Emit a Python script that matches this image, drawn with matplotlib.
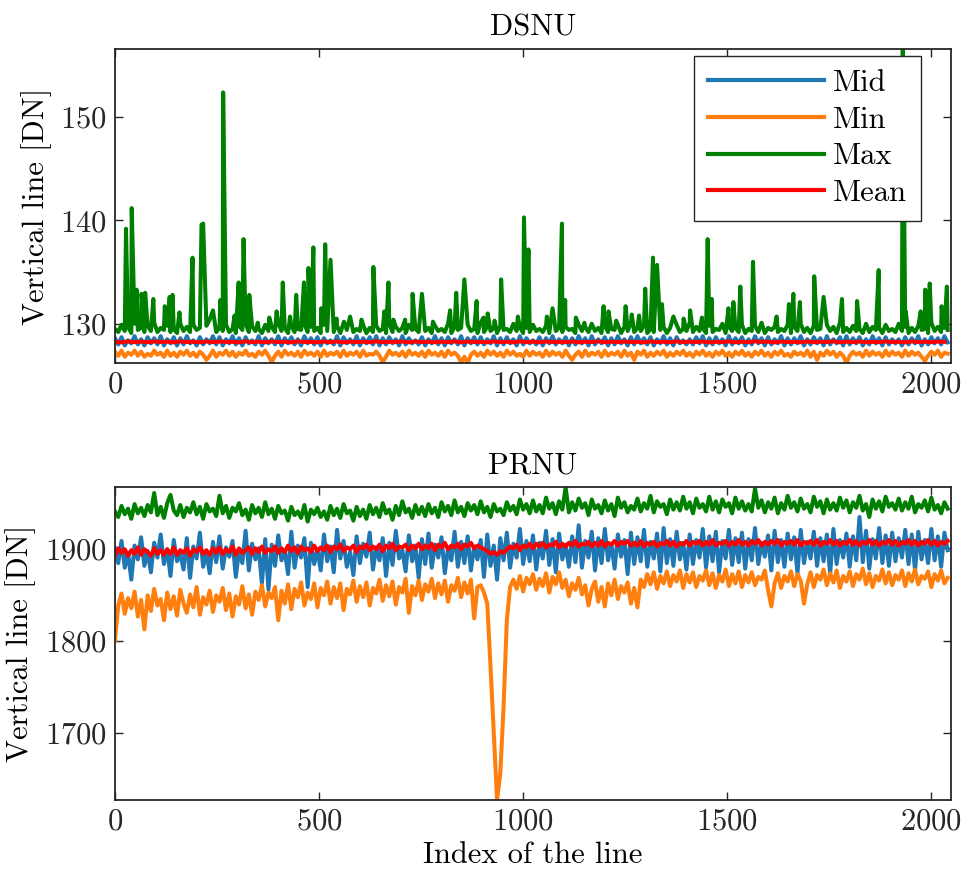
import numpy as np
import matplotlib
matplotlib.use("Agg")
import matplotlib.pyplot as plt

plt.rcParams['font.family'] = ['cmr10', 'DejaVu Serif']
plt.rcParams['axes.formatter.use_mathtext'] = True
plt.rcParams['mathtext.fontset'] = 'cm'

# ---------------- data ----------------
line_index = np.arange(0, 2048, 8)     # index of the line (sampled every 8)
mean_index = np.arange(0, 2048, 16)    # index for the smooth DSNU mean
series_names = ["Mid", "Min", "Max", "Mean"]
series_colors = ["#1f77b4", "#ff7f0e", "#008000", "#ff0000"]
x_ticks = [0, 500, 1000, 1500, 2000]
dsnu_yticks = [130, 140, 150]
prnu_yticks = [1700, 1800, 1900]

dsnu_mid = [
    128.6, 128.0, 128.7, 127.9, 128.4, 128.1, 128.8, 128.0, 128.5, 127.9, 128.7, 128.1, 128.6, 128.0, 128.8, 127.9,
    128.5, 128.1, 128.7, 127.9, 128.6, 128.0, 128.8, 128.1, 128.4, 127.9, 128.7, 128.0, 128.5, 128.1, 128.8, 128.0,
    128.7, 127.9, 128.5, 128.1, 128.8, 128.0, 128.6, 127.9, 128.7, 128.1, 128.4, 128.0, 128.8, 127.9, 128.6, 128.1,
    128.5, 128.0, 128.8, 127.9, 128.6, 128.1, 128.7, 128.0, 128.5, 127.9, 128.8, 128.1, 128.6, 128.0, 128.7, 127.9,
    128.6, 128.1, 128.4, 128.0, 128.8, 127.9, 128.7, 128.1, 128.5, 128.0, 128.8, 127.9, 128.6, 128.1, 128.7, 128.0,
    128.8, 127.9, 128.6, 128.0, 128.7, 128.1, 128.5, 127.9, 128.8, 128.0, 128.6, 128.1, 128.4, 128.0, 128.7, 127.9,
    128.5, 128.1, 128.8, 128.0, 128.6, 127.9, 128.7, 128.1, 128.5, 128.0, 128.8, 127.9, 128.6, 128.1, 128.7, 128.0,
    128.7, 128.0, 128.5, 128.1, 128.8, 127.9, 128.6, 128.0, 128.7, 128.1, 128.5, 127.9, 128.8, 128.0, 128.6, 128.1,
    128.4, 128.0, 128.7, 127.9, 128.6, 128.1, 128.8, 128.0, 128.5, 128.1, 128.7, 127.9, 128.6, 128.0, 128.8, 128.1,
    128.6, 127.9, 128.8, 128.0, 128.5, 128.1, 128.7, 127.9, 128.6, 128.0, 128.8, 128.1, 128.5, 127.9, 128.7, 128.0,
    128.8, 128.1, 128.6, 128.0, 128.7, 127.9, 128.5, 128.1, 128.8, 128.0, 128.6, 127.9, 128.7, 128.1, 128.4, 128.0,
    128.5, 128.0, 128.7, 128.1, 128.8, 127.9, 128.6, 128.0, 128.7, 128.1, 128.5, 127.9, 128.8, 128.0, 128.6, 128.1,
    128.7, 127.9, 128.5, 128.0, 128.8, 128.1, 128.6, 127.9, 128.7, 128.0, 128.5, 128.1, 128.8, 127.9, 128.6, 128.0,
    128.6, 128.1, 128.8, 127.9, 128.5, 128.0, 128.7, 128.1, 128.6, 127.9, 128.8, 128.0, 128.5, 128.1, 128.7, 127.9,
    128.8, 128.0, 128.6, 128.1, 128.7, 127.9, 128.5, 128.0, 128.8, 128.1, 128.6, 127.9, 128.7, 128.0, 128.5, 128.1,
    128.5, 127.9, 128.7, 128.0, 128.6, 128.1, 128.8, 127.9, 128.5, 128.0, 128.7, 128.1, 128.6, 128.0, 128.8, 128.2]

dsnu_min = [
    127.3, 126.9, 127.4, 126.8, 127.2, 127.0, 127.4, 126.9, 127.3, 126.8, 127.1, 126.9, 127.4, 127.0, 127.2, 126.8,
    127.4, 126.9, 127.2, 126.8, 127.3, 127.0, 127.4, 126.9, 127.2, 126.8, 127.3, 127.0, 126.5, 126.9, 127.4, 126.8,
    127.2, 127.0, 127.4, 126.9, 127.3, 126.8, 127.2, 127.0, 127.4, 126.9, 127.1, 126.8, 127.3, 127.0, 127.4, 126.9,
    126.3, 126.9, 127.3, 126.8, 127.4, 127.0, 127.2, 126.9, 127.3, 126.8, 127.4, 127.0, 127.2, 126.9, 127.3, 126.8,
    127.4, 126.9, 127.2, 127.0, 127.3, 126.8, 127.4, 126.9, 127.2, 127.0, 127.3, 126.8, 127.4, 126.9, 127.1, 127.0,
    127.3, 126.9, 126.3, 126.8, 127.4, 127.0, 127.2, 126.9, 127.3, 126.8, 127.4, 127.0, 127.2, 126.9, 127.3, 126.8,
    127.4, 127.0, 127.2, 126.9, 127.3, 126.8, 127.4, 127.0, 127.2, 126.9, 126.3, 126.8, 126.2, 127.0, 127.3, 126.9,
    127.2, 126.8, 127.4, 127.0, 127.3, 126.9, 127.2, 126.8, 127.4, 127.0, 127.3, 126.9, 127.1, 126.8, 127.4, 126.9,
    127.3, 127.0, 127.2, 126.8, 127.4, 126.9, 127.3, 127.0, 127.2, 126.8, 127.4, 126.9, 126.5, 127.0, 127.3, 126.8,
    127.4, 126.9, 127.2, 127.0, 127.3, 126.8, 127.4, 126.9, 127.2, 127.0, 127.3, 126.8, 127.4, 126.9, 127.2, 126.5,
    127.3, 127.0, 127.4, 126.8, 127.2, 126.9, 127.3, 127.0, 127.4, 126.8, 127.2, 126.9, 127.3, 127.0, 127.4, 126.9,
    127.2, 126.8, 127.3, 127.0, 127.4, 126.9, 127.2, 126.8, 127.3, 127.0, 127.4, 126.9, 127.2, 126.8, 127.3, 127.0,
    127.4, 126.9, 127.2, 126.8, 127.3, 127.0, 127.4, 126.9, 127.2, 126.8, 127.3, 127.0, 127.4, 126.9, 127.1, 126.8,
    127.3, 127.0, 127.2, 126.9, 127.4, 126.8, 127.3, 126.5, 127.2, 126.9, 127.4, 127.0, 127.3, 126.8, 127.2, 126.9,
    126.2, 126.9, 127.3, 127.0, 127.2, 126.8, 127.4, 126.9, 127.3, 127.0, 127.2, 126.8, 127.4, 126.9, 127.3, 127.0,
    127.2, 126.8, 127.4, 126.9, 127.3, 127.0, 127.2, 126.8, 126.4, 126.9, 127.3, 127.0, 127.4, 126.8, 127.2, 127.1]

dsnu_max_base = [
    129.5, 129.2, 129.9, 129.3, 129.7, 129.1, 130.0, 129.4, 129.6, 129.2, 129.8, 129.3, 130.1, 129.2, 129.6, 129.4,
    129.8, 129.2, 129.5, 129.1, 130.0, 129.3, 129.7, 129.2, 129.9, 129.4, 129.6, 129.1, 129.8, 129.3, 130.2, 129.2,
    129.6, 129.3, 129.9, 129.2, 129.5, 129.1, 129.8, 129.4, 130.0, 129.2, 129.7, 129.3, 129.5, 129.1, 129.9, 129.3,
    129.7, 129.2, 130.1, 129.3, 129.6, 129.1, 129.8, 129.2, 129.5, 129.4, 130.0, 129.2, 129.7, 129.3, 129.6, 129.1,
    129.9, 129.3, 129.6, 129.2, 129.8, 129.1, 130.1, 129.4, 129.7, 129.2, 129.5, 129.3, 129.9, 129.1, 129.6, 129.2,
    129.8, 129.3, 129.5, 129.1, 130.0, 129.2, 129.7, 129.3, 129.6, 129.1, 129.9, 129.4, 129.5, 129.2, 130.1, 129.3,
    129.6, 129.1, 129.8, 129.3, 129.5, 129.2, 130.0, 129.1, 129.7, 129.4, 129.6, 129.2, 129.9, 129.3, 129.5, 129.1,
    130.1, 129.2, 129.7, 129.3, 129.6, 129.1, 129.8, 129.4, 129.5, 129.2, 130.0, 129.3, 129.7, 129.1, 129.6, 129.2,
    129.9, 129.3, 129.5, 129.2, 129.8, 129.1, 130.1, 129.3, 129.6, 129.2, 129.7, 129.4, 129.5, 129.1, 129.9, 129.3,
    129.7, 129.2, 130.0, 129.3, 129.6, 129.1, 129.8, 129.2, 129.5, 129.4, 129.9, 129.1, 129.7, 129.3, 130.1, 129.2,
    129.6, 129.3, 129.8, 129.1, 129.5, 129.2, 130.0, 129.4, 129.7, 129.1, 129.6, 129.3, 129.9, 129.2, 129.5, 129.3,
    130.1, 129.2, 129.7, 129.3, 129.6, 129.1, 129.8, 129.2, 129.5, 129.4, 130.0, 129.1, 129.7, 129.3, 129.6, 129.2,
    129.9, 129.1, 129.5, 129.3, 129.8, 129.2, 130.1, 129.1, 129.6, 129.4, 129.7, 129.2, 129.5, 129.3, 129.9, 129.1,
    129.7, 129.3, 130.0, 129.2, 129.6, 129.1, 129.8, 129.4, 129.5, 129.2, 129.9, 129.3, 129.7, 129.1, 130.1, 129.2,
    129.6, 129.2, 129.8, 129.3, 129.5, 129.1, 130.0, 129.2, 129.7, 129.4, 129.6, 129.1, 129.9, 129.3, 129.5, 129.2,
    130.0, 129.3, 129.7, 129.1, 129.6, 129.2, 129.8, 129.4, 129.5, 129.1, 130.1, 129.3, 129.7, 129.2, 129.6, 129.4]

dsnu_max_spike_idx = [
    27, 41, 53, 65, 74, 94, 122, 134, 141, 158, 190, 212, 216, 232, 240, 258,
    265, 293, 303, 315, 329, 350, 378, 396, 411, 429, 444, 463, 474, 486, 505,
    515, 528, 543, 561, 576, 604, 633, 660, 670, 682, 711, 729, 752, 779, 821,
    836, 856, 886, 903, 913, 930, 946, 987, 1002, 1013, 1058, 1072, 1095, 1103,
    1129, 1150, 1197, 1209, 1228, 1251, 1266, 1284, 1299, 1318, 1328, 1340,
    1368, 1393, 1409, 1438, 1452, 1462, 1503, 1515, 1532, 1563, 1621, 1651,
    1662, 1678, 1713, 1736, 1781, 1818, 1871, 1930, 1937, 1974, 1985, 1996,
    2025, 2038]
dsnu_max_spike_val = [
    139.2, 141.2, 133.3, 132.9, 133.0, 132.4, 131.7, 132.6, 132.8, 131.1, 136.4,
    139.6, 139.7, 130.4, 131.3, 132.3, 152.4, 130.8, 134.0, 138.2, 132.8, 130.1,
    130.6, 131.2, 134.0, 130.7, 132.8, 134.0, 135.4, 137.4, 131.5, 137.7, 136.2,
    130.5, 130.2, 130.7, 130.4, 135.5, 131.2, 134.0, 130.4, 130.4, 132.9, 132.9,
    130.2, 131.3, 133.0, 134.3, 132.2, 130.6, 131.0, 130.3, 134.3, 130.7, 140.3,
    137.2, 130.7, 131.5, 139.7, 132.3, 130.6, 130.1, 131.7, 131.2, 130.3, 131.7,
    130.9, 130.8, 133.4, 136.4, 135.7, 131.9, 130.7, 130.5, 131.3, 130.6, 138.2,
    132.4, 131.5, 132.1, 133.6, 136.0, 130.7, 131.9, 132.9, 132.1, 134.6, 132.6,
    132.4, 132.2, 135.2, 156.6, 131.2, 131.2, 133.3, 133.9, 131.7, 133.6]

dsnu_mean = [
    128.25, 128.20, 128.30, 128.22, 128.28, 128.21, 128.29, 128.24, 128.27, 128.20,
    128.30, 128.23, 128.26, 128.21, 128.29, 128.22, 128.28, 128.24, 128.25, 128.20,
    128.30, 128.22, 128.27, 128.21, 128.29, 128.23, 128.26, 128.20, 128.30, 128.24,
    128.25, 128.21, 128.28, 128.22, 128.29, 128.20, 128.27, 128.23, 128.26, 128.21,
    128.30, 128.22, 128.25, 128.24, 128.28, 128.20, 128.29, 128.23, 128.26, 128.21,
    128.27, 128.22, 128.30, 128.20, 128.28, 128.24, 128.25, 128.21, 128.29, 128.23,
    128.26, 128.20, 128.30, 128.22, 128.27, 128.21, 128.28, 128.24, 128.25, 128.22,
    128.29, 128.20, 128.26, 128.23, 128.30, 128.21, 128.27, 128.22, 128.28, 128.24,
    128.25, 128.20, 128.29, 128.23, 128.26, 128.21, 128.30, 128.22, 128.27, 128.24,
    128.28, 128.20, 128.25, 128.23, 128.29, 128.21, 128.26, 128.22, 128.30, 128.24,
    128.27, 128.20, 128.28, 128.23, 128.25, 128.21, 128.29, 128.22, 128.26, 128.24,
    128.30, 128.20, 128.27, 128.23, 128.28, 128.21, 128.25, 128.22, 128.29, 128.24,
    128.26, 128.20, 128.30, 128.23, 128.27, 128.21, 128.28, 128.25]

prnu_mid = [
    1900, 1884, 1908, 1879, 1895, 1866, 1903, 1888, 1912, 1881, 1897, 1874, 1906, 1890, 1915, 1883,
    1899, 1870, 1909, 1886, 1894, 1877, 1911, 1868, 1902, 1889, 1917, 1880, 1896, 1873, 1907, 1885,
    1913, 1878, 1901, 1891, 1908, 1869, 1898, 1884, 1919, 1876, 1905, 1888, 1900, 1862, 1910, 1855,
    1904, 1881, 1914, 1887, 1897, 1872, 1918, 1879, 1903, 1890, 1911, 1858, 1906, 1883, 1899, 1876,
    1915, 1886, 1902, 1874, 1920, 1889, 1908, 1880, 1896, 1871, 1913, 1884, 1905, 1891, 1917, 1877,
    1901, 1887, 1911, 1870, 1906, 1882, 1919, 1889, 1898, 1875, 1914, 1886, 1903, 1868, 1910, 1883,
    1916, 1879, 1904, 1890, 1912, 1873, 1900, 1887, 1918, 1880, 1907, 1884, 1913, 1876, 1902, 1888,
    1909, 1869, 1915, 1881, 1903, 1866, 1911, 1887, 1917, 1879, 1905, 1890, 1921, 1883, 1908, 1886,
    1914, 1877, 1906, 1889, 1919, 1882, 1910, 1874, 1916, 1888, 1904, 1880, 1913, 1885, 1925, 1879,
    1908, 1890, 1918, 1876, 1911, 1884, 1921, 1887, 1905, 1878, 1915, 1891, 1909, 1872, 1917, 1883,
    1912, 1886, 1920, 1880, 1907, 1889, 1916, 1875, 1922, 1884, 1910, 1881, 1918, 1888, 1906, 1877,
    1915, 1883, 1909, 1890, 1921, 1879, 1913, 1886, 1918, 1874, 1908, 1889, 1920, 1882, 1911, 1885,
    1917, 1878, 1910, 1887, 1922, 1883, 1906, 1891, 1914, 1876, 1919, 1885, 1909, 1880, 1916, 1888,
    1912, 1873, 1920, 1884, 1907, 1889, 1918, 1881, 1911, 1886, 1915, 1872, 1921, 1883, 1909, 1890,
    1916, 1880, 1913, 1887, 1934, 1885, 1919, 1878, 1910, 1889, 1922, 1884, 1914, 1881, 1917, 1886,
    1911, 1890, 1920, 1883, 1915, 1876, 1918, 1888, 1909, 1884, 1921, 1887, 1913, 1880, 1917, 1898]

prnu_min = [
    1800, 1838, 1851, 1829, 1846, 1835, 1853, 1826, 1844, 1812, 1849, 1832, 1856, 1838, 1845, 1822,
    1852, 1834, 1848, 1827, 1855, 1840, 1830, 1850, 1836, 1858, 1828, 1847, 1839, 1854, 1831, 1849,
    1842, 1857, 1833, 1851, 1826, 1848, 1839, 1859, 1835, 1850, 1828, 1853, 1844, 1860, 1837, 1852,
    1846, 1858, 1822, 1854, 1840, 1861, 1834, 1856, 1847, 1863, 1838, 1852, 1845, 1862, 1836, 1857,
    1849, 1864, 1840, 1858, 1846, 1862, 1833, 1856, 1850, 1865, 1842, 1859, 1847, 1863, 1838, 1857,
    1851, 1866, 1843, 1860, 1848, 1864, 1839, 1858, 1852, 1867, 1830, 1859, 1849, 1865, 1844, 1861,
    1853, 1867, 1846, 1862, 1850, 1865, 1842, 1860, 1854, 1868, 1847, 1863, 1851, 1866, 1824, 1858,
    1860, 1852, 1840, 1772, 1700, 1627, 1656, 1728, 1822, 1858, 1866, 1856, 1870, 1853, 1868, 1861,
    1872, 1855, 1867, 1859, 1873, 1852, 1869, 1861, 1874, 1857, 1866, 1848, 1862, 1855, 1868, 1850,
    1860, 1838, 1856, 1864, 1842, 1858, 1837, 1862, 1849, 1866, 1845, 1859, 1852, 1863, 1840, 1857,
    1836, 1866, 1858, 1872, 1861, 1874, 1856, 1870, 1862, 1875, 1859, 1871, 1864, 1876, 1857, 1872,
    1863, 1874, 1858, 1870, 1865, 1876, 1860, 1873, 1857, 1871, 1864, 1877, 1859, 1872, 1862, 1875,
    1858, 1871, 1863, 1874, 1860, 1869, 1866, 1876, 1855, 1837, 1862, 1873, 1857, 1870, 1864, 1875,
    1859, 1872, 1865, 1840, 1861, 1874, 1858, 1871, 1866, 1877, 1860, 1873, 1863, 1876, 1857, 1870,
    1864, 1875, 1859, 1872, 1866, 1878, 1861, 1873, 1858, 1870, 1865, 1877, 1862, 1874, 1860, 1871,
    1866, 1876, 1859, 1873, 1864, 1877, 1861, 1870, 1867, 1875, 1858, 1872, 1865, 1876, 1862, 1868]

prnu_max = [
    1940, 1934, 1946, 1937, 1943, 1932, 1948, 1938, 1944, 1935, 1947, 1939, 1960, 1936, 1945, 1933,
    1949, 1958, 1941, 1936, 1947, 1934, 1944, 1939, 1950, 1937, 1945, 1932, 1948, 1940, 1943, 1935,
    1957, 1938, 1946, 1933, 1944, 1940, 1949, 1936, 1942, 1931, 1947, 1938, 1944, 1934, 1950, 1937,
    1943, 1932, 1946, 1938, 1941, 1930, 1945, 1936, 1940, 1933, 1947, 1929, 1942, 1937, 1944, 1934,
    1940, 1931, 1946, 1936, 1943, 1933, 1948, 1938, 1941, 1930, 1945, 1935, 1942, 1932, 1947, 1937,
    1944, 1934, 1949, 1938, 1942, 1931, 1946, 1936, 1951, 1939, 1943, 1933, 1947, 1937, 1945, 1935,
    1948, 1938, 1944, 1934, 1950, 1940, 1946, 1936, 1952, 1939, 1945, 1935, 1949, 1941, 1947, 1937,
    1951, 1939, 1945, 1934, 1948, 1940, 1943, 1936, 1950, 1941, 1946, 1937, 1953, 1942, 1948, 1938,
    1952, 1940, 1947, 1938, 1955, 1943, 1949, 1937, 1951, 1942, 1966, 1939, 1950, 1941, 1954, 1944,
    1949, 1936, 1953, 1943, 1947, 1938, 1952, 1941, 1948, 1935, 1955, 1944, 1950, 1939, 1946, 1942,
    1954, 1940, 1949, 1943, 1957, 1939, 1951, 1945, 1948, 1937, 1953, 1942, 1950, 1941, 1956, 1943,
    1950, 1938, 1954, 1944, 1948, 1940, 1956, 1942, 1951, 1939, 1953, 1945, 1949, 1938, 1955, 1943,
    1951, 1941, 1948, 1940, 1965, 1944, 1952, 1939, 1950, 1943, 1955, 1938, 1949, 1942, 1957, 1944,
    1950, 1940, 1954, 1943, 1948, 1939, 1956, 1945, 1951, 1938, 1953, 1942, 1949, 1941, 1955, 1944,
    1952, 1939, 1950, 1944, 1957, 1941, 1948, 1934, 1953, 1943, 1951, 1940, 1956, 1945, 1949, 1942,
    1954, 1941, 1950, 1943, 1956, 1939, 1948, 1944, 1952, 1940, 1955, 1942, 1947, 1938, 1950, 1943]

prnu_mean = [
    1893, 1900, 1895, 1899, 1892, 1898, 1894, 1901, 1893, 1899, 1896, 1892, 1900, 1894, 1898, 1893,
    1899, 1894, 1901, 1893, 1898, 1895, 1900, 1892, 1899, 1896, 1901, 1894, 1898, 1893, 1900, 1895,
    1901, 1894, 1899, 1896, 1902, 1893, 1900, 1895, 1898, 1901, 1894, 1900, 1896, 1902, 1895, 1899,
    1897, 1902, 1895, 1900, 1896, 1903, 1897, 1901, 1895, 1902, 1898, 1900, 1896, 1903, 1897, 1901,
    1898, 1903, 1896, 1902, 1899, 1904, 1897, 1901, 1899, 1903, 1896, 1902, 1900, 1904, 1898, 1902,
    1899, 1904, 1897, 1903, 1900, 1905, 1898, 1902, 1901, 1904, 1898, 1903, 1900, 1905, 1899, 1903,
    1900, 1905, 1898, 1904, 1901, 1906, 1899, 1903, 1901, 1905, 1899, 1904, 1902, 1906, 1900, 1903,
    1901, 1899, 1897, 1894, 1896, 1893, 1897, 1895, 1899, 1902, 1900, 1904, 1898, 1903, 1901, 1905,
    1900, 1905, 1902, 1906, 1901, 1904, 1903, 1907, 1901, 1905, 1902, 1906, 1903, 1908, 1902, 1905,
    1904, 1907, 1902, 1906, 1903, 1908, 1902, 1906, 1904, 1908, 1903, 1907, 1905, 1908, 1903, 1906,
    1903, 1908, 1902, 1906, 1904, 1907, 1902, 1906, 1904, 1908, 1903, 1907, 1902, 1906, 1904, 1908,
    1903, 1907, 1905, 1908, 1903, 1907, 1904, 1909, 1903, 1906, 1905, 1908, 1903, 1907, 1904, 1909,
    1904, 1907, 1903, 1908, 1905, 1909, 1903, 1907, 1904, 1908, 1905, 1909, 1903, 1907, 1905, 1908,
    1904, 1909, 1903, 1907, 1905, 1908, 1904, 1909, 1903, 1907, 1905, 1909, 1904, 1908, 1903, 1907,
    1905, 1909, 1904, 1908, 1903, 1907, 1905, 1909, 1904, 1908, 1903, 1907, 1905, 1909, 1904, 1908,
    1903, 1907, 1905, 1909, 1904, 1908, 1903, 1907, 1905, 1909, 1904, 1908, 1903, 1907, 1905, 1908]


def merged(base_idx, base_val, extra_idx, extra_val):
    pts = dict(zip(np.asarray(base_idx).tolist(), base_val))
    pts.update(zip(extra_idx, extra_val))
    xs = sorted(pts)
    return xs, [pts[k] for k in xs]


dsnu_max_x, dsnu_max_y = merged(line_index, dsnu_max_base, dsnu_max_spike_idx, dsnu_max_spike_val)

# ---------------- figure ----------------
FS = 22
LW = 2.9
fig = plt.figure(figsize=(9.67, 8.76), dpi=100)
ax1 = fig.add_axes([0.1189, 0.5856, 0.8645, 0.3584])
ax2 = fig.add_axes([0.1189, 0.0868, 0.8645, 0.3567])

panels = [
    (ax1, "DSNU",
     [(line_index, dsnu_mid), (line_index, dsnu_min), (dsnu_max_x, dsnu_max_y), (mean_index, dsnu_mean)],
     dsnu_yticks),
    (ax2, "PRNU",
     [(line_index, prnu_mid), (line_index, prnu_min), (line_index, prnu_max), (line_index, prnu_mean)],
     prnu_yticks),
]

for ax, title, series, yticks in panels:
    allv = []
    for (xs, ys), name, col in zip(series, series_names, series_colors):
        ax.plot(xs, ys, color=col, lw=LW, label=name)
        allv += list(ys)
    ax.set_xlim(0, 2048)
    ax.set_ylim(min(allv), max(allv))
    ax.set_xticks(x_ticks)
    ax.set_yticks(yticks)
    ax.set_title(title, fontsize=FS, pad=10)
    ax.set_ylabel("Vertical line [DN]", fontsize=FS, labelpad=6)
    ax.tick_params(direction='in', top=True, right=True, length=6, width=1.0,
                   labelsize=FS, pad=6, colors='#262626', labelcolor='#262626')
    for s in ax.spines.values():
        s.set_color('#262626')
        s.set_linewidth(1.3)

ax2.set_xlabel("Index of the line", fontsize=FS, labelpad=4)

leg = ax1.legend(loc='upper right', bbox_to_anchor=(0.964, 0.978), fontsize=FS,
                 frameon=True, fancybox=False, framealpha=1, edgecolor='#262626',
                 handlelength=3.8, handletextpad=0.3, labelspacing=0.3,
                 borderpad=0.45, borderaxespad=0.0)
leg.get_frame().set_linewidth(1.0)
for h in leg.get_lines():
    h.set_linewidth(3)

fig.savefig("out.png", dpi=100)
